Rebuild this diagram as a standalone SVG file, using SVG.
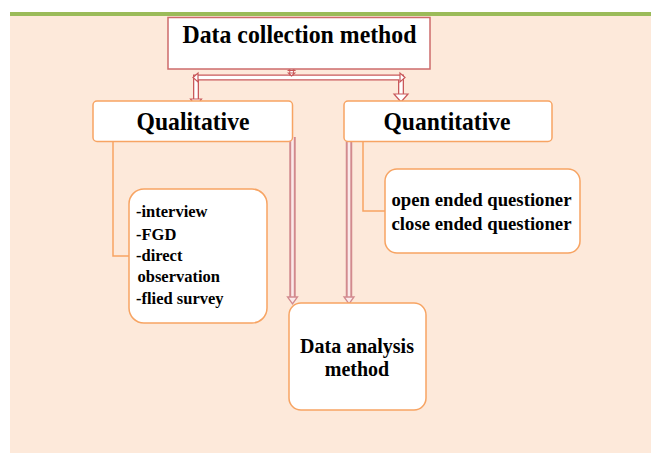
<svg xmlns="http://www.w3.org/2000/svg" width="651" height="453" viewBox="0 0 651 453">
  <style>
    .t { font-family: "Liberation Serif", "Times New Roman", serif; font-weight: bold; fill: #000; }
    .big { font-size: 25px; }
    .mid { font-size: 20px; }
    .sm { font-size: 16.5px; }
    .q { font-size: 18px; }
    .obox { fill: #ffffff; stroke: #f7a463; stroke-width: 1.5; }
    .olink { fill: none; stroke: #f7a463; stroke-width: 1.5; }
    .rout { fill: none; stroke: #c9585a; stroke-width: 6; }
    .rin { fill: none; stroke: #ffffff; stroke-width: 3.4; }
    .rhead { fill: #ffffff; stroke: #c9585a; stroke-width: 1.2; stroke-linejoin: miter; }
    .pout { fill: none; stroke: #d28a8e; stroke-width: 6.5; }
    .pin { fill: none; stroke: #fbeaea; stroke-width: 2.6; }
    .phead { fill: #fbeaea; stroke: #d28a8e; stroke-width: 1.3; }
  </style>
  <rect x="10" y="16" width="641" height="437" fill="#fde9da"/>
  <rect x="10" y="12" width="641" height="4" fill="#9bbb59"/>

  <g id="connectors">
    <!-- orange elbows -->
    <path class="olink" d="M113 142 V256 H129"/>
    <path class="olink" d="M363 141 V211 H385"/>
    <!-- red hollow split arrow from Data collection method -->
    <path class="rout" d="M196 99 V77.5 H401 V95"/>
    <path class="rin" d="M196 99 V77.5 H401 V95"/>
    <polygon class="rhead" points="193,77.5 198,73 198,82"/>
    <polygon class="rhead" points="405,77.5 400,73 400,82"/>
    <polygon class="rhead" points="190.5,99 201.5,99 196,106"/>
    <polygon class="rhead" points="394,94 408,94 401,102"/>
    <!-- small up-down arrow under top box -->
    <rect x="289.8" y="69" width="3.6" height="6" fill="#ffffff" stroke="#c9585a" stroke-width="1"/>
    <polygon class="rhead" points="291.6,67.5 288.5,70.5 294.7,70.5"/>
    <polygon class="rhead" points="291.6,76 288.5,73 294.7,73"/>
    <!-- pink vertical arrows to Data analysis method -->
    <path class="pout" d="M292.5 137 V298"/>
    <path class="pin" d="M292.5 137 V298"/>
    <polygon class="phead" points="287.5,297 297.5,297 292.5,304"/>
    <path class="pout" d="M349 140 V298"/>
    <path class="pin" d="M349 140 V298"/>
    <polygon class="phead" points="344,297 354,297 349,304"/>
  </g>

  <g id="data-collection">
    <rect x="168" y="17.5" width="262" height="51.5" fill="#ffffff" stroke="#cd6b6b" stroke-width="1.5"/>
    <text class="t big" x="299.5" y="42.5" text-anchor="middle" textLength="234" lengthAdjust="spacingAndGlyphs">Data collection method</text>
  </g>

  <g id="qualitative">
    <rect class="obox" x="93" y="101" width="199.5" height="40.5" rx="4"/>
    <text class="t big" x="193" y="129.5" text-anchor="middle" textLength="113" lengthAdjust="spacingAndGlyphs">Qualitative</text>
  </g>

  <g id="quantitative">
    <rect class="obox" x="344" y="101" width="208" height="40.5" rx="4"/>
    <text class="t big" x="447" y="129.5" text-anchor="middle" textLength="127" lengthAdjust="spacingAndGlyphs">Quantitative</text>
  </g>

  <g id="qualitative-list">
    <rect class="obox" x="129" y="189" width="138" height="134" rx="15"/>
    <text class="t sm" x="136" y="217">-interview</text>
    <text class="t sm" x="136" y="239.5">-FGD</text>
    <text class="t sm" x="136" y="261">-direct</text>
    <text class="t sm" x="137.5" y="281.5">observation</text>
    <text class="t sm" x="136" y="303.5">-flied survey</text>
  </g>

  <g id="quantitative-list">
    <rect class="obox" x="385" y="169" width="195" height="84" rx="12"/>
    <text class="t q" x="391.5" y="205.5" textLength="180" lengthAdjust="spacingAndGlyphs">open ended questioner</text>
    <text class="t q" x="391.5" y="229.5" textLength="180" lengthAdjust="spacingAndGlyphs">close ended questioner</text>
  </g>

  <g id="data-analysis">
    <rect class="obox" x="289" y="303" width="137" height="107" rx="12"/>
    <text class="t mid" x="357" y="353" text-anchor="middle">Data analysis</text>
    <text class="t mid" x="357" y="375.5" text-anchor="middle">method</text>
  </g>
</svg>
